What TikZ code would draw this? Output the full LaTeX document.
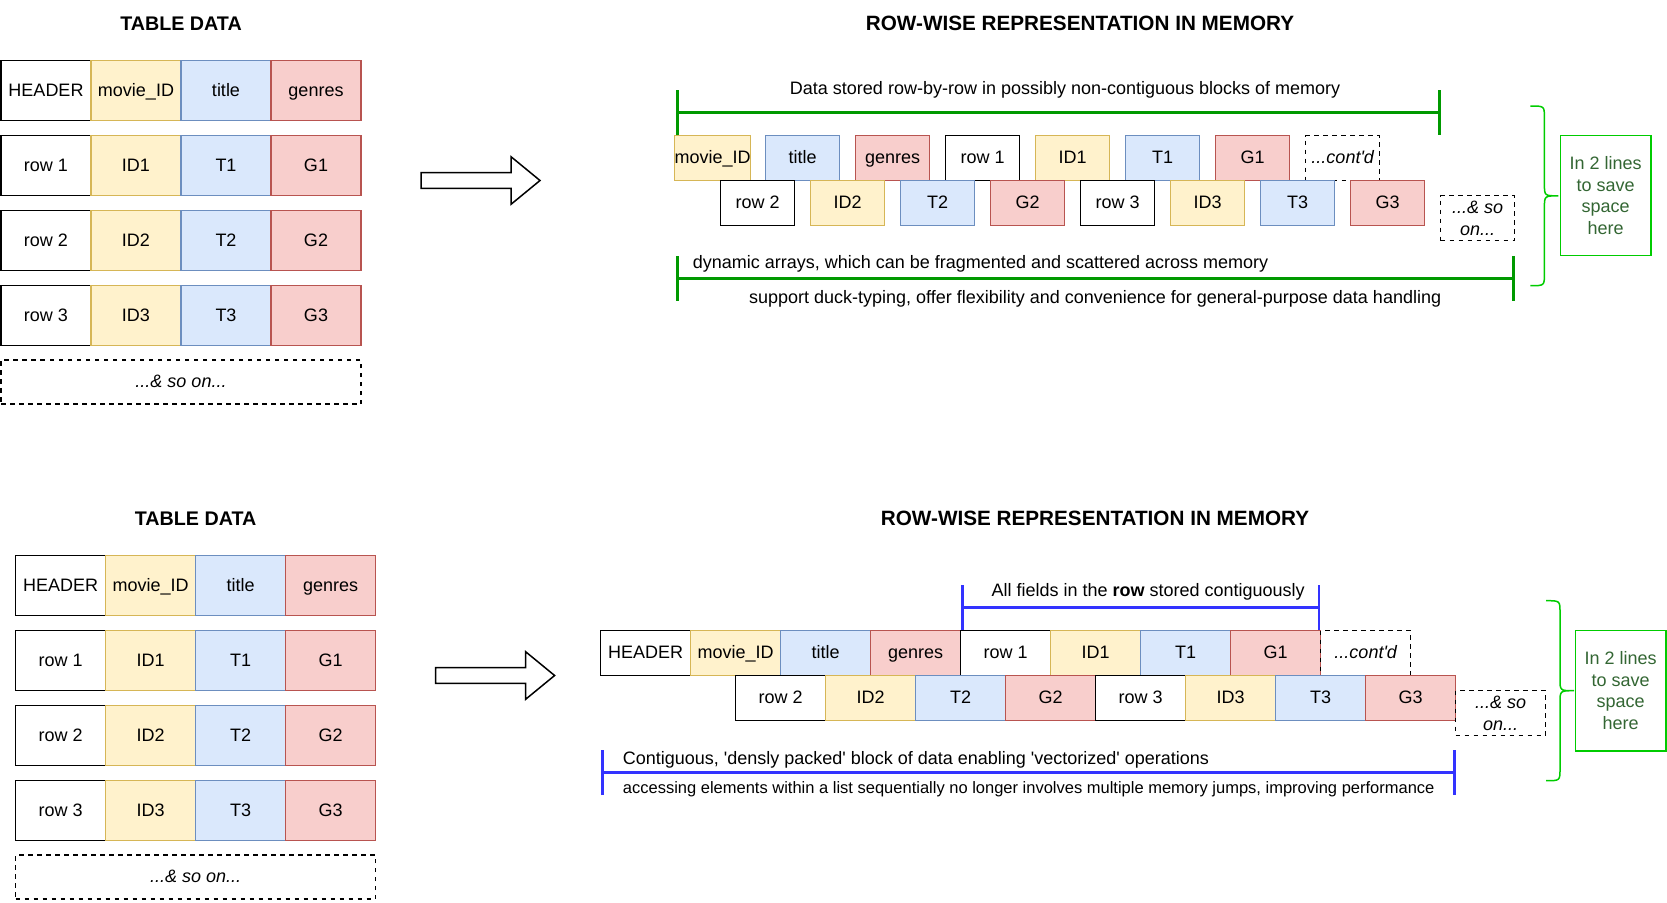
\documentclass[tikz,border=0pt]{standalone}
\usepackage{fontspec}
\setmainfont{Liberation Sans}
\usetikzlibrary{arrows.meta}

\definecolor{idfill}{HTML}{FFF2CC}
\definecolor{idline}{HTML}{D6B656}
\definecolor{titlefill}{HTML}{DAE8FC}
\definecolor{titleline}{HTML}{6C8EBF}
\definecolor{genrefill}{HTML}{F8CECC}
\definecolor{genreline}{HTML}{B85450}
\definecolor{rowgreen}{HTML}{009900}
\definecolor{notegreen}{HTML}{00CC00}
\definecolor{notetext}{HTML}{336633}
\definecolor{packblue}{HTML}{3333FF}

\newcommand\apos{\textquotesingle}
\newcommand\contd{...cont\apos d}

\begin{document}
\begin{tikzpicture}[x = 1pt, y = -1pt,
	lbl/.style = {inner sep = 0pt, text = black, text height = 16pt, text depth = 4.5pt, font = \fontsize{18}{21.5}\selectfont},
	cell/.style = {lbl, draw, line width = 1.5pt, minimum width = 90pt, minimum height = 60pt},
	plain/.style = {cell, fill = white},
	idcell/.style = {cell, fill = idfill, draw = idline},
	titlecell/.style = {cell, fill = titlefill, draw = titleline},
	genrecell/.style = {cell, fill = genrefill, draw = genreline},
	dots/.style = {cell, dash pattern = on 4.5pt off 4.5pt, font = \fontsize{18}{21.5}\selectfont\itshape},
	heading/.style = {lbl, font = \fontsize{19.7}{23}\selectfont\bfseries},
	span/.style = {line width = 2.8pt, arrows = {Bar[width = 45pt]-Bar[width = 45pt]}},
	notebox/.style = {lbl, draw = notegreen, line width = 1.5pt, text = notetext, minimum width = 90.5pt, minimum height = 120pt, align = center, text height = , text depth = },
	notebrace/.style = {draw = notegreen, line width = 1.5pt}
]
\useasboundingbox (0, 0) rectangle (1667, 902);

	% Table data and arrow, once per half

	\foreach \dx/\dy/\tg in {0/0/a, 14.6/495/b} {
	\begin{scope}[shift = {(\dx, \dy)}]
		\node [heading] (head-\tg) at (181, 24.3) {TABLE DATA};
		\foreach \r/\la/\lb/\lc/\ld/\y in {0/HEADER/movie\_ID/title/genres/90.5, 1/row 1/ID1/T1/G1/165.5, 2/row 2/ID2/T2/G2/240.5, 3/row 3/ID3/T3/G3/315.5} {
			\node [plain] (tab-\tg-\r-1) at (46, \y) {\la};
			\node [idcell] (tab-\tg-\r-2) at (136, \y) {\lb};
			\node [titlecell] (tab-\tg-\r-3) at (226, \y) {\lc};
			\node [genrecell] (tab-\tg-\r-4) at (316, \y) {\ld};
		}
		\node [dots, minimum width = 360pt, minimum height = 44pt] (tab-\tg-more) at (181, 382) {...\& so on...};
		\draw [line width = 1.5pt, fill = white] (421, 172.7) -- (511, 172.7) -- (511, 156.7) -- (540, 180.5) -- (511, 204.3) -- (511, 188.3) -- (421, 188.3) -- cycle;
	\end{scope}
	}

	% Row-wise memory, blocks apart

	\node [heading, font = \fontsize{20.7}{24}\selectfont\bfseries] (mem-a) at (1080, 24.3) {ROW-WISE REPRESENTATION IN MEMORY};
	\begin{scope}[cell/.append style = {minimum width = 74pt, minimum height = 45pt}]
		\foreach \sty/\lbl [count = \k from 0] in {idcell/movie\_ID, titlecell/title, genrecell/genres, plain/row 1, idcell/ID1, titlecell/T1, genrecell/G1, dots/\contd}
			\node [\sty] (loose-a-\k) at ({712.7 + 90 * \k}, 158.2) {\lbl};
		\foreach \sty/\lbl [count = \k from 0] in {plain/row 2, idcell/ID2, titlecell/T2, genrecell/G2, plain/row 3, idcell/ID3, titlecell/T3, genrecell/G3}
			\node [\sty] (loose-b-\k) at ({757.7 + 90 * \k}, 203.2) {\lbl};
		\node [dots, align = center, text height = , text depth = ] (loose-more) at (1477.6, 218.2) {...\& so\\on...};
	\end{scope}

	\coordinate (loose-top-l) at (675.7, 112.7);
	\coordinate (loose-top-r) at (1440.7, 112.7);
	\draw [span, rowgreen] (loose-top-l) -- node [lbl, pos = 0.509, above = 12.2pt] (loose-top-txt) {Data stored row-by-row in possibly non-contiguous blocks of memory} (loose-top-r);

	\coordinate (loose-bot-l) at (675.7, 278.3);
	\coordinate (loose-bot-r) at (1514.5, 278.3);
	\draw [span, rowgreen] (loose-bot-l) -- node [lbl, below = 8pt] (loose-bot-txt-b) {support duck-typing, offer flexibility and convenience for general-purpose data handling} (loose-bot-r);
	\node [lbl, anchor = base west] (loose-bot-txt-a) at (692.7, 268.3) {dynamic arrays, which can be fragmented and scattered across memory};

	% Row-wise memory, packed

	\node [heading, font = \fontsize{20.7}{24}\selectfont\bfseries] (mem-b) at (1095, 519.3) {ROW-WISE REPRESENTATION IN MEMORY};
	\begin{scope}[cell/.append style = {minimum height = 45pt}]
		\foreach \sty/\lbl [count = \k from 0] in {plain/HEADER, idcell/movie\_ID, titlecell/title, genrecell/genres, plain/row 1, idcell/ID1, titlecell/T1, genrecell/G1, dots/\contd}
			\node [\sty] (dense-a-\k) at ({645.7 + 90 * \k}, 653.2) {\lbl};
		\foreach \sty/\lbl [count = \k from 0] in {plain/row 2, idcell/ID2, titlecell/T2, genrecell/G2, plain/row 3, idcell/ID3, titlecell/T3, genrecell/G3}
			\node [\sty] (dense-b-\k) at ({780.7 + 90 * \k}, 698.2) {\lbl};
		\node [dots, align = center, text height = , text depth = ] (dense-more) at (1500.7, 713.2) {...\& so\\on...};
	\end{scope}

	\coordinate (dense-top-l) at (960.7, 607.7);
	\coordinate (dense-top-r) at (1320.4, 607.7);
	\draw [span, packblue] (dense-top-l) -- node [lbl, pos = 0.521, above = 4.9pt] (dense-top-txt) {All fields in the \textbf{row} stored contiguously} (dense-top-r);

	\coordinate (dense-bot-l) at (600.7, 772.7);
	\coordinate (dense-bot-r) at (1455.5, 772.7);
	\draw [span, packblue] (dense-bot-l) -- (dense-bot-r);
	\node [lbl, anchor = base west] (dense-bot-txt-a) at (622.7, 764.3) {Contiguous, \apos densly packed\apos{} block of data enabling \apos vectorized\apos{} operations};
	\node [lbl, anchor = base west, font = \fontsize{16.5}{19}\selectfont] (dense-bot-txt-b) at (622.7, 793.3) {accessing elements within a list sequentially no longer involves multiple memory jumps, improving performance};

	% Side notes

	\node [notebox] (note-a) at (1605.6, 195.7) {In 2 lines\\to save\\space\\here};
	\node [notebox, minimum width = 90.7pt, minimum height = 120.3pt] (note-b) at (1620.6, 690.8) {In 2 lines\\to save\\space\\here};
	\foreach \bx/\by/\bh in {1530.4/106/179.7, 1546/600.7/180}
		\draw [notebrace, shift = {(\bx, \by)}] (0, 0) .. controls (14, 0) .. (14, 12) -- (14, {\bh / 2 - 12}) .. controls (14, {\bh / 2}) .. (28, {\bh / 2}) .. controls (14, {\bh / 2}) .. (14, {\bh / 2 + 12}) -- (14, {\bh - 12}) .. controls (14, \bh) .. (0, \bh);

\end{tikzpicture}
\end{document}
